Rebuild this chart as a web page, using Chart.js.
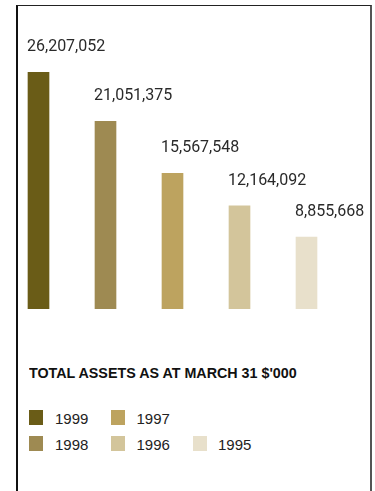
<!DOCTYPE html>
<html>
<head>
<meta charset="utf-8">
<script src="https://cdn.jsdelivr.net/npm/chart.js@4"></script>
<style>
  html, body { margin:0; padding:0; background:#fff; }
  body { width:375px; height:491px; position:relative; overflow:hidden; }
  .frame { position:absolute; left:16px; top:5px; width:352px; height:500px;
           border-left:2px solid #111; border-top:1px solid #222; border-right:2px solid #555; }
  #wrap { position:absolute; left:0; top:0; width:375px; height:320px; }
  .title { position:absolute; left:29px; top:364px; font:bold 15px "Liberation Sans", sans-serif;
           color:#111; white-space:nowrap; transform:scaleX(0.953); transform-origin:0 0; }
  .leg { position:absolute; font:15px "Liberation Sans", sans-serif; color:#222; line-height:15px; }
  .sw { position:absolute; width:14px; height:15px; }
</style>
</head>
<body>
<div class="frame"></div>
<div id="wrap"><canvas id="chart" width="375" height="320"></canvas></div>
<div class="title" id="title"></div>
<div id="legend"></div>
<script>
// data
const years = ['1999', '1998', '1997', '1996', '1995'];
const totalAssets = [26207052, 21051375, 15567548, 12164092, 8855668];
const barColors = ['#6a5c17', '#9e8a52', '#bda35f', '#d3c59b', '#e8e0cb'];
const titleText = "TOTAL ASSETS AS AT MARCH 31 $'000";

// legend grid: [row, col] for each year
const legendSlots = [[0,0], [1,0], [0,1], [1,1], [1,2]];

const el = (id)=>document.getElementById(id);
el('title').textContent = titleText;

// HTML legend
const legendBox = el('legend');
years.forEach((y, i)=>{
  const [row, col] = legendSlots[i];
  const sw = document.createElement('div');
  sw.className = 'sw';
  sw.style.left = (29 + col*82) + 'px';
  sw.style.top = (410 + row*26) + 'px';
  sw.style.background = barColors[i];
  legendBox.appendChild(sw);
  const t = document.createElement('div');
  t.className = 'leg';
  t.textContent = y;
  t.style.left = (55 + col*81.5) + 'px';
  t.style.top = (411 + row*26) + 'px';
  legendBox.appendChild(t);
});

const fmt = (v)=>v.toLocaleString('en-US');

// value labels above each bar, left aligned to the bar
const valueLabels = {
  id: 'valueLabels',
  afterDatasetsDraw(chart){
    const ctx = chart.ctx;
    const meta = chart.getDatasetMeta(0);
    ctx.save();
    ctx.font = '16px Roboto, sans-serif';
    ctx.fillStyle = '#2a2a2a';
    ctx.textAlign = 'left';
    ctx.textBaseline = 'middle';
    meta.data.forEach((bar, i)=>{
      const left = bar.x - bar.width/2;
      ctx.fillText(fmt(totalAssets[i]), left - 1, bar.y - 25);
    });
    ctx.restore();
  }
};

new Chart(el('chart'), {
  type: 'bar',
  data: {
    labels: years,
    datasets: [{
      data: totalAssets,
      backgroundColor: barColors,
      borderWidth: 0,
      barThickness: 21
    }]
  },
  options: {
    responsive: false,
    animation: false,
    events: [],
    layout: { padding: { left: 5, right: 35, top: 40, bottom: 11 } },
    plugins: { legend: { display: false }, tooltip: { enabled: false } },
    scales: {
      x: { display: false, offset: true },
      y: { display: false, min: 1300000, max: 29600000 }
    }
  },
  plugins: [valueLabels]
});
</script>
</body>
</html>
